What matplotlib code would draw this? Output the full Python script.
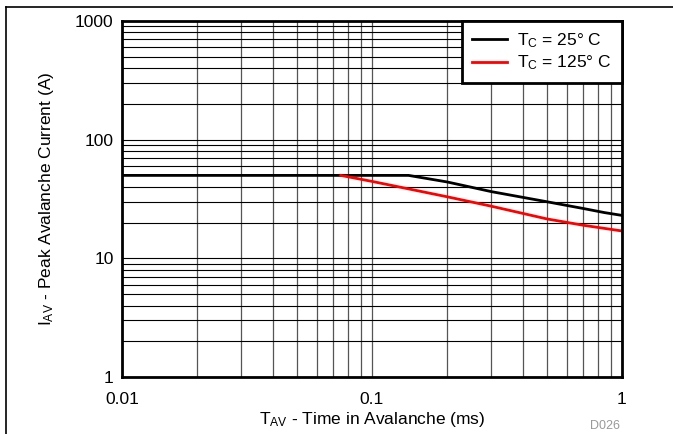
import numpy as np
import matplotlib.pyplot as plt
from matplotlib.lines import Line2D

plt.rcParams['font.family'] = ['Liberation Sans', 'DejaVu Sans']
plt.rcParams['mathtext.fontset'] = 'custom'
plt.rcParams['mathtext.rm'] = 'Liberation Sans'
plt.rcParams['mathtext.it'] = 'Liberation Sans'

# Tc = 25 C
t_25 = [0.01, 0.14, 0.2, 0.3, 0.5, 0.7, 0.85, 1.0]
i_25 = [50, 50, 44, 36.5, 30, 26.3, 24.3, 23]

# Tc = 125 C
t_125 = [0.075, 0.1, 0.2, 0.3, 0.5, 0.7, 1.0]
i_125 = [50, 44.5, 33, 27.5, 21.5, 19, 17]

fig = plt.figure(figsize=(6.73, 4.34), dpi=100)
ax = fig.add_axes([122 / 673, 1 - 377 / 434, 500 / 673, 356 / 434])

ax.plot(t_25, i_25, color='black', lw=2, label=r'T$_{\mathrm{C}}$ = 25° C')
ax.plot(t_125, i_125, color='red', lw=2, label=r'T$_{\mathrm{C}}$ = 125° C')

ax.set_xscale('log')
ax.set_yscale('log')
ax.set_xlim(0.01, 1)
ax.set_ylim(1, 1000)
ax.set_xticks([0.01, 0.1, 1])
ax.set_xticklabels(['0.01', '0.1', '1'])
ax.set_yticks([1, 10, 100, 1000])
ax.set_yticklabels(['1', '10', '100', '1000'])

ax.grid(True, which='both', axis='y', color='black', lw=0.8)
ax.grid(True, which='both', axis='x', color='#555555', lw=0.9)
ax.tick_params(which='both', length=0, labelsize=12.5)
ax.tick_params(axis='x', pad=11)
ax.tick_params(axis='y', pad=6)
for s in ax.spines.values():
    s.set_linewidth(2)

ax.set_xlabel(r'T$_{\mathrm{AV}}$ - Time in Avalanche (ms)', fontsize=12.5, labelpad=2)
ax.set_ylabel(r'I$_{\mathrm{AV}}$ - Peak Avalanche Current (A)', fontsize=12.5, labelpad=14)

leg = ax.legend(loc='upper right', borderaxespad=0, fancybox=False,
                framealpha=1, edgecolor='black', fontsize=12.5,
                handlelength=2.0, handletextpad=0.6, borderpad=0.6,
                labelspacing=0.2)
leg.get_frame().set_linewidth(2)

fig.text(605 / 673, 1 - 426 / 434, 'D026', color='#999999', fontsize=9,
         ha='center', va='center')

fig.add_artist(Line2D([6 / 673, 1], [1 - 7 / 434, 1 - 7 / 434],
                      color='black', lw=1.2, transform=fig.transFigure))
fig.add_artist(Line2D([6 / 673, 6 / 673], [0, 1 - 7 / 434],
                      color='black', lw=1.2, transform=fig.transFigure))

fig.savefig('out.png', dpi=100)
